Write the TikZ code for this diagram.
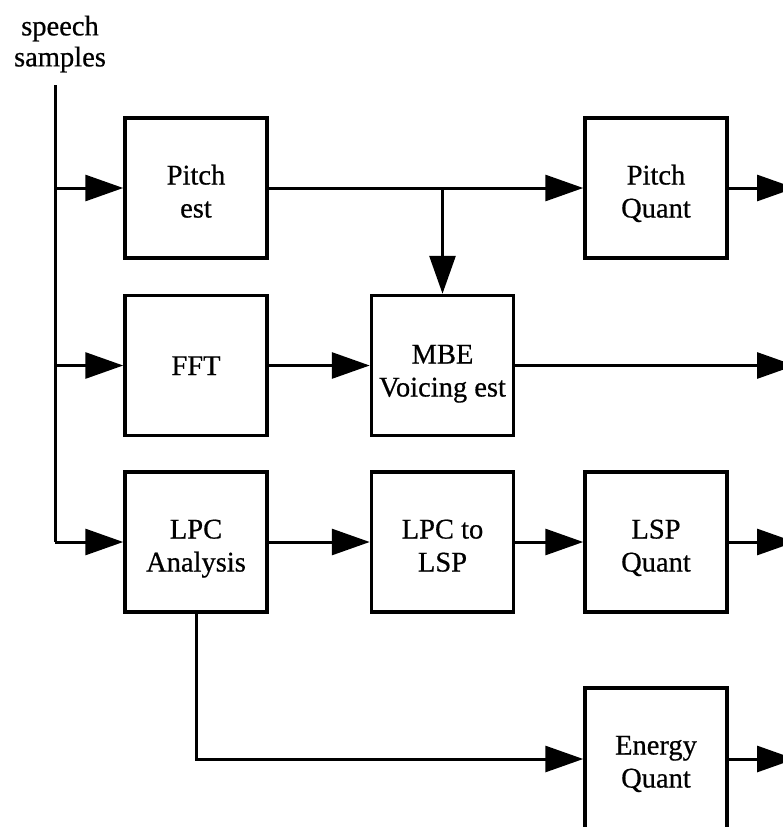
\documentclass[tikz,border=0pt]{standalone}
\usepackage{fontspec}
\setmainfont{Liberation Serif}[FakeBold=0.6]
\usetikzlibrary{arrows.meta}
\newcommand{\bt}[2]{\raisebox{#1}[0pt][0pt]{\begin{tabular}[t]{@{}c@{}}#2\end{tabular}}}
\begin{document}
\begin{tikzpicture}[x=1pt,y=-1pt,
  blk/.style={draw=black, line width=3.5pt, minimum width=142pt, minimum height=140pt,
    inner sep=0pt, font=\fontsize{28.5}{33}\selectfont},
  wire/.style={line width=3pt},
  arr/.style={line width=3pt, -{Triangle[length=38pt,width=26pt]}},
  lbl/.style={align=center, inner sep=0pt, font=\fontsize{28.5}{31}\selectfont}]
\useasboundingbox (0,0) rectangle (783,827);
\clip (0,0) rectangle (783,827);
\fill[white] (0,0) rectangle (783,827);

\node[lbl] (src) at (60,44) {speech\\samples};

\node[blk] (pitch) at (196,188) {\bt{3.5pt}{Pitch\\est}};
\node[blk] (fft) at (196,365.5) {\bt{-9.5pt}{FFT}};
\node[blk] (lpc) at (196,542) {\bt{3.5pt}{LPC\\Analysis}};
\node[blk] (mbe) at (442.5,365.5) {\bt{2pt}{MBE\\Voicing est}};
\node[blk] (l2l) at (442.5,542) {\bt{3.5pt}{LPC to\\LSP}};
\node[blk] (pq) at (656,188) {\bt{3.5pt}{Pitch\\Quant}};
\node[blk] (lq) at (656,542) {\bt{3.5pt}{LSP\\Quant}};
\node[blk, minimum height=152pt] (eq) at (656,764) {\bt{9.5pt}{Energy\\Quant}};

\coordinate (top) at (55,85);
\coordinate (j1) at (55,188);
\coordinate (j2) at (55,365.5);
\coordinate (j3) at (55,542);
\coordinate (o1) at (795,188);
\coordinate (o2) at (795,365.5);
\coordinate (o3) at (795,542);
\coordinate (o4) at (795,759);
\coordinate (split) at (mbe.north |- pitch.east);
\coordinate (bend) at (lpc.south |- o4);

\draw[wire] (top) -- (j3);
\draw[arr] (j1) -- (pitch.west);
\draw[arr] (j2) -- (fft.west);
\draw[arr] (j3) -- (lpc.west);

\draw[arr] (pitch.east) -- (pq.west);
\draw[arr] (split) -- (mbe.north);
\draw[arr] (fft.east) -- (mbe.west);
\draw[arr] (mbe.east) -- (o2);
\draw[arr] (lpc.east) -- (l2l.west);
\draw[arr] (l2l.east) -- (lq.west);
\draw[arr] (lq.east) -- (o3);
\draw[arr] (pq.east) -- (o1);
\draw[arr] (lpc.south) -- (bend) -- (eq.west |- o4);
\draw[arr] (eq.east |- o4) -- (o4);
\end{tikzpicture}
\end{document}
